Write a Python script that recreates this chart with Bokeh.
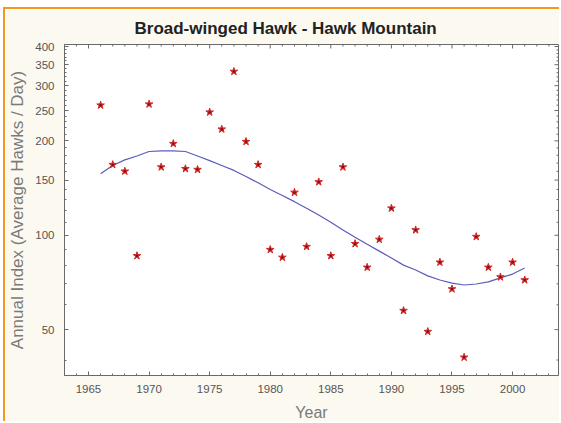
import math
from bokeh.plotting import figure
from bokeh.models import Range1d, FixedTicker
from bokeh.embed import file_html
from bokeh.resources import INLINE

years = list(range(1966, 2002))
index_values = [260, 168, 160, 86, 262, 165, 196, 163, 162, 247, 218, 333,
                199, 168, 90, 85, 137, 92, 148, 86, 165, 94, 79, 97, 122,
                57.5, 104, 49.3, 82, 67.4, 40.8, 99, 79, 73.6, 82, 72]
trend_values = [157, 167, 174, 179, 185, 186, 186, 185, 179, 173, 167, 161,
                154, 147, 140, 134, 128, 122, 116, 110, 104, 98.5, 93.6, 89,
                84.6, 80.3, 77.5, 74.2, 72, 70.4, 69.4, 69.9, 71, 73.1, 75.2, 78.6]
x_major = [1965, 1970, 1975, 1980, 1985, 1990, 1995, 2000]
x_minor = [y for y in range(1963, 2004) if y not in x_major]
y_major = [50, 100, 150, 200, 250, 300, 350, 400]
y_minor = [40, 60, 70, 80, 90, 110, 120, 130, 140, 160, 170, 180, 190,
           210, 220, 230, 240, 260, 270, 280, 290, 310, 320, 330, 340,
           360, 370, 380, 390]
x_lo, x_hi = 1963.02, 2003.79
y_lo, y_hi = 35.7, 406

CREAM = "#fcf9f1"
ORANGE = "#f5961e"
FRAME = "#6a6a6a"
FONT = "Liberation Sans"

p = figure(width=556, height=414, y_axis_type="log",
           x_range=Range1d(x_lo, x_hi), y_range=Range1d(y_lo, y_hi),
           output_backend="svg", toolbar_location=None,
           min_border_left=58, min_border_right=3, min_border_top=34,
           min_border_bottom=47)
p.styles = {"margin-left": "3px", "margin-top": "7px",
            "border-left": f"2px solid {ORANGE}", "border-top": f"2px solid {ORANGE}"}
p.border_fill_color = CREAM
p.background_fill_color = "white"
p.outline_line_color = FRAME
p.grid.visible = False

p.title.text = "Broad-winged Hawk - Hawk Mountain"
p.title.text_font = FONT
p.title.text_font_style = "bold"
p.title.text_font_size = "17px"
p.title.text_color = "#222222"
p.title.align = "left"
p.title.offset = 70
p.title.standoff = 14

for ax in [p.xaxis[0], p.yaxis[0]]:
    ax.axis_line_color = FRAME
    ax.major_tick_in = 4
    ax.major_tick_out = 0
    ax.minor_tick_in = 2
    ax.minor_tick_out = 0
    ax.major_tick_line_color = FRAME
    ax.minor_tick_line_color = FRAME
    ax.major_label_text_font = FONT
    ax.major_label_text_font_size = "11.5px"
    ax.major_label_text_color = "#555555"
    ax.axis_label_text_font = FONT
    ax.axis_label_text_font_style = "normal"
    ax.axis_label_text_color = "#7a7a7a"

p.xaxis[0].ticker = FixedTicker(ticks=x_major, minor_ticks=x_minor)
p.yaxis[0].ticker = FixedTicker(ticks=y_major, minor_ticks=y_minor)
p.xaxis[0].major_label_standoff = 9
p.yaxis[0].major_label_standoff = 10
p.xaxis[0].axis_label = "Year"
p.xaxis[0].axis_label_text_font_size = "16px"
p.xaxis[0].axis_label_standoff = 8
p.yaxis[0].axis_label = "Annual Index (Average Hawks / Day)"
p.yaxis[0].axis_label_text_font_size = "17px"
p.yaxis[0].axis_label_standoff = 5

# mirrored tick marks on the top and right edges of the frame
p.scatter(x_major, [y_hi] * len(x_major), marker="dash", angle=math.pi / 2,
          size=8, line_color=FRAME)
p.scatter(x_minor, [y_hi] * len(x_minor), marker="dash", angle=math.pi / 2,
          size=4, line_color=FRAME)
p.scatter([x_hi] * len(y_major), y_major, marker="dash", size=8, line_color=FRAME)
p.scatter([x_hi] * len(y_minor), y_minor, marker="dash", size=4, line_color=FRAME)

p.line(years, trend_values, line_color="#5c5cb8", line_width=1.2)
p.scatter(years, index_values, marker="star", size=8,
          fill_color="#e03030", line_color="#d02828")
p.scatter(years, index_values, marker="circle", size=2.5,
          fill_color="#7a1010", line_color=None)

open("out.html", "w").write(file_html(p, INLINE))
